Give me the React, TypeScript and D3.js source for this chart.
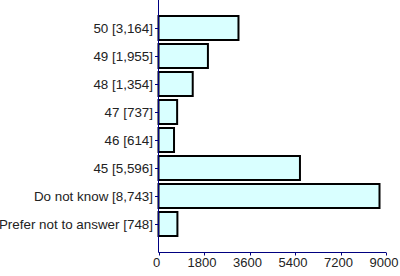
import React from "react";
import * as d3 from "d3";

const categories = ["50", "49", "48", "47", "46", "45", "Do not know", "Prefer not to answer"];
const values = [3164, 1955, 1354, 737, 614, 5596, 8743, 748];
const xTicks = [0, 1800, 3600, 5400, 7200, 9000];

const W = 400;
const H = 276;
const x0 = 158.5;
const x1 = 386;
const yTop = 0;
const yBottom = 252.5;

export default function App() {
  const x = d3.scaleLinear().domain([0, 9000]).range([x0, x1]);
  const y = d3
    .scaleBand<string>()
    .domain(categories)
    .range([yTop, 252])
    .paddingInner(0)
    .paddingOuter(0.5);
  const barH = 24;
  const fmt = d3.format(",");
  const font = "'Liberation Sans', Arial, sans-serif";
  const axisColor = "#000080";

  return (
    <svg
      width={W}
      height={H}
      style={{ position: "absolute", left: 0, top: 0, background: "#fff" }}
      fontFamily={font}
    >
      {categories.map((c, i) => {
        const cy = (y(c) as number) + y.bandwidth() / 2;
        const top = Math.round(cy - barH / 2);
        return (
          <g key={c}>
            <rect
              x={x(0)}
              y={top}
              width={x(values[i]) - x(0)}
              height={barH}
              fill="#d9ffff"
              stroke="#000"
              strokeWidth={2}
            />
            <line x1={x0 - 3.5} x2={x0} y1={Math.round(cy) + 0.5} y2={Math.round(cy) + 0.5} stroke={axisColor} strokeWidth={1} />
            <text x={153} y={cy} dy="0.36em" textAnchor="end" fill="#222" fontSize={13.4}>
              {`${c} [${fmt(values[i])}]`}
            </text>
          </g>
        );
      })}
      <line x1={x0} x2={x0} y1={yTop} y2={yBottom} stroke={axisColor} strokeWidth={1} />
      <line x1={x0} x2={x1} y1={yBottom} y2={yBottom} stroke={axisColor} strokeWidth={1} />
      {xTicks.map((t) => (
        <g key={t}>
          <line
            x1={Math.round(x(t)) + 0.5}
            x2={Math.round(x(t)) + 0.5}
            y1={yBottom}
            y2={yBottom + 3}
            stroke={axisColor}
            strokeWidth={1}
          />
          <text x={x(t) - 2} y={267} textAnchor="middle" fill="#222" fontSize={13}>
            {t}
          </text>
        </g>
      ))}
    </svg>
  );
}
